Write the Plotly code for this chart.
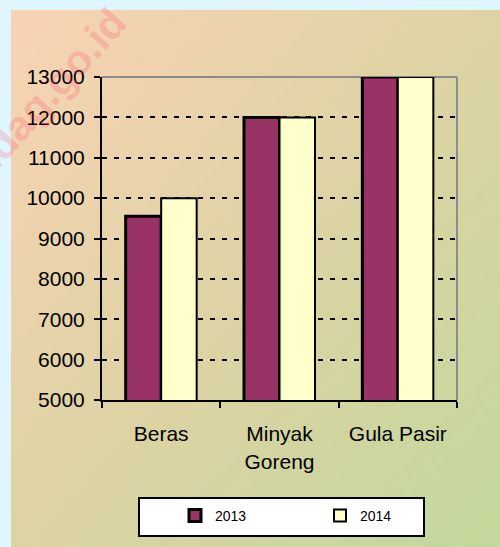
import base64
import struct
import zlib

import plotly.graph_objects as go

# data
categories = ["Beras", "Minyak<br>Goreng", "Gula Pasir"]
harga_2013 = [9550, 12000, 13000]
harga_2014 = [10000, 12000, 13000]
y_ticks = [5000, 6000, 7000, 8000, 9000, 10000, 11000, 12000, 13000]


# small png with a diagonal gradient for the panel background
def gradient_png(w=48, h=48):
    c0, c1, c2 = (249, 211, 180), (222, 211, 164), (195, 216, 156)
    rows = b""
    for j in range(h):
        row = b"\x00"
        for i in range(w):
            t = (i / (w - 1) + j / (h - 1)) / 2
            if t < 0.5:
                a, b, s = c0, c1, t * 2
            else:
                a, b, s = c1, c2, (t - 0.5) * 2
            row += bytes(int(round(a[k] + (b[k] - a[k]) * s)) for k in range(3))
        rows += row

    def chunk(tag, data):
        c = struct.pack(">I", len(data)) + tag + data
        return c + struct.pack(">I", zlib.crc32(tag + data) & 0xFFFFFFFF)

    png = b"\x89PNG\r\n\x1a\n"
    png += chunk(b"IHDR", struct.pack(">IIBBBBB", w, h, 8, 2, 0, 0, 0))
    png += chunk(b"IDAT", zlib.compress(rows))
    png += chunk(b"IEND", b"")
    return "data:image/png;base64," + base64.b64encode(png).decode()


fig = go.Figure()
fig.add_trace(go.Bar(
    x=categories, y=harga_2013, name="2013",
    marker=dict(color="#993366", line=dict(color="black", width=3)),
))
fig.add_trace(go.Bar(
    x=categories, y=harga_2014, name="2014",
    marker=dict(color="#FFFFCC", line=dict(color="black", width=2)),
))

# plot area is x 102..457, y 77..400 in pixels
L, R, T, B = 102, 457, 77, 400
pw, ph = R - L, B - T


def px(x):
    return (x - L) / pw


def py(y):
    return (B - y) / ph


fig.update_layout(
    width=500, height=547,
    margin=dict(l=L, r=500 - R, t=T, b=547 - B),
    paper_bgcolor="#E0F6FF",
    plot_bgcolor="rgba(0,0,0,0)",
    font=dict(family="Liberation Sans, Arial", size=21, color="black"),
    barmode="group", bargap=0.4, bargroupgap=0.0,
    showlegend=True,
    legend=dict(
        orientation="h", x=px(175), y=py(500),
        xanchor="left", yanchor="top",
        bgcolor="rgba(0,0,0,0)", borderwidth=0,
        font=dict(size=14), entrywidth=100, entrywidthmode="pixels",
        itemwidth=30, traceorder="normal",
    ),
    images=[dict(
        source=gradient_png(), xref="paper", yref="paper",
        x=px(11), y=py(10),
        sizex=489 / pw, sizey=537 / ph,
        sizing="stretch", layer="below", xanchor="left", yanchor="top",
    )],
    shapes=[
        dict(type="line", xref="paper", yref="paper", x0=0, x1=1, y0=1, y1=1,
             line=dict(color="#8c8c8c", width=2), layer="below"),
        dict(type="line", xref="paper", yref="paper", x0=1, x1=1, y0=0, y1=1,
             line=dict(color="#8c8c8c", width=2), layer="below"),
        # legend box
        dict(type="rect", xref="paper", yref="paper",
             x0=px(139), x1=px(424), y0=py(536), y1=py(498),
             fillcolor="white", line=dict(color="black", width=2),
             layer="above"),
    ],
    annotations=[
        dict(text="(Rp/kg)", xref="paper", yref="paper",
             x=px(375), y=py(1), xanchor="center",
             yanchor="bottom", showarrow=False,
             font=dict(size=21, color="#444")),
        dict(text="<b>kemendag.go.id</b>", xref="paper", yref="paper",
             x=px(11), y=py(133), xanchor="center", yanchor="middle",
             showarrow=False, textangle=-48,
             font=dict(size=42, color="rgba(255,50,90,0.2)")),
    ],
)

fig.update_xaxes(
    showline=True, linecolor="black", linewidth=2,
    ticks="outside", tickson="boundaries", ticklen=6, tickwidth=2,
    tickcolor="black", showgrid=False, ticklabelstandoff=14,
)
fig.update_yaxes(
    range=[5000, 13000], tickvals=y_ticks, tickformat="d",
    showline=True, linecolor="black", linewidth=2,
    ticks="outside", ticklen=6, tickwidth=2, tickcolor="black",
    ticklabelstandoff=5,
    showgrid=True, gridcolor="black", gridwidth=2, griddash="5px,7px",
    zeroline=False,
)

fig.write_html(
    "out.html",
    config={"displayModeBar": False},
    post_script="document.body.style.margin='0';",
)
